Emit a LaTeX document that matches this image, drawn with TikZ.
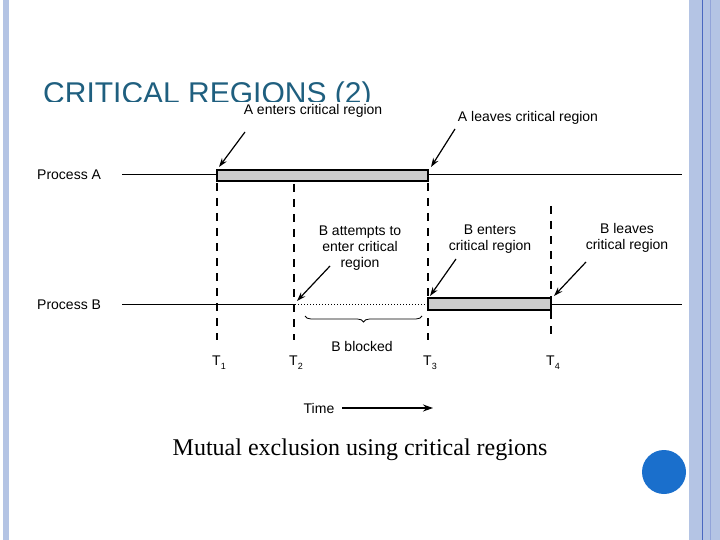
\documentclass[tikz,border=0pt]{standalone}
\usepackage{fontspec}
\setmainfont{Liberation Sans}
\newfontfamily\serifcap{Liberation Serif}
\usetikzlibrary{arrows.meta,decorations.pathreplacing}
\definecolor{band}{HTML}{B4C4E4}
\definecolor{bandline}{HTML}{4A68C0}
\definecolor{titlec}{HTML}{1F5F7F}
\definecolor{dot}{HTML}{1A6FCC}
\begin{document}
\begin{tikzpicture}[x=1pt,y=-1pt,
  lbl/.style={font=\fontsize{14}{16}\selectfont,align=center,inner sep=0pt},
  timeline/.style={line width=1pt},
  vdash/.style={line width=1.3pt,dash pattern=on 8pt off 7pt},
  crit/.style={draw,fill=gray!40,line width=1.2pt},
  callout/.style={line width=1.2pt,-{Stealth[length=9pt,width=6pt]}}]
\useasboundingbox (0,0) rectangle (720,540);
\fill[white] (0,0) rectangle (720,540);
\fill[band] (3,0) rectangle (9,540);
\fill[band] (689,0) rectangle (720,540);
\draw[bandline,line width=0.6pt] (702,0) -- (702,540);
\draw[bandline!60,line width=0.6pt] (710,0) -- (710,540);
\node[anchor=base west,text=titlec,font=\fontsize{30}{32}\selectfont,inner sep=0pt] (title) at (43,104) {CRITICAL REGIONS (2)};
\fill[white] (30,102) rectangle (688,425);
% process lines
\node[lbl,anchor=west] (pa) at (37,175) {Process A};
\node[lbl,anchor=west] (pb) at (37,305) {Process B};
\coordinate (a0) at (122,175); \coordinate (a1) at (217,175); \coordinate (a2) at (428,175); \coordinate (a3) at (682,175);
\coordinate (b0) at (122,304); \coordinate (b1) at (295,304); \coordinate (b2) at (428,304); \coordinate (b3) at (551,304); \coordinate (b4) at (682,304);
\draw[timeline] (a0) -- (a1); \draw[timeline] (a2) -- (a3);
\draw[timeline] (b0) -- (b1); \draw[timeline] (b3) -- (b4);
\draw[line width=1pt,dotted] (b1) -- (b2);
\draw[crit] (217,170) rectangle (428,181);
\draw[crit] (428,298) rectangle (551,310);
% dashed verticals
\draw[vdash] (217,183) -- (217,340);
\draw[vdash] (294,184) -- (294,340);
\draw[vdash] (428,183) -- (428,340);
\draw[vdash] (551,206) -- (551,340);
\node[lbl] (t1) at (219,363) {T\raisebox{-0.5ex}{\fontsize{9}{9}\selectfont 1}};
\node[lbl] (t2) at (296,363) {T\raisebox{-0.5ex}{\fontsize{9}{9}\selectfont 2}};
\node[lbl] (t3) at (430,363) {T\raisebox{-0.5ex}{\fontsize{9}{9}\selectfont 3}};
\node[lbl] (t4) at (553,363) {T\raisebox{-0.5ex}{\fontsize{9}{9}\selectfont 4}};
% callouts
\node[lbl] (ae) at (313,111) {A enters critical region};
\node[lbl] (al) at (528,118) {A leaves critical region};
\node[lbl] (ba) at (360,248) {B attempts to\\enter critical\\region};
\node[lbl] (be) at (490,239) {B enters\\critical region};
\node[lbl] (bl) at (627,238) {B leaves\\critical region};
\coordinate (ae1) at (245,132); \coordinate (ae2) at (219,167);
\coordinate (al1) at (455,129); \coordinate (al2) at (431,167);
\coordinate (ba1) at (330,266); \coordinate (ba2) at (297,301);
\coordinate (be1) at (456,259); \coordinate (be2) at (430,296);
\coordinate (bl1) at (586,262); \coordinate (bl2) at (554,296);
\draw[callout] (ae1) -- (ae2);
\draw[callout] (al1) -- (al2);
\draw[callout] (ba1) -- (ba2);
\draw[callout] (be1) -- (be2);
\draw[callout] (bl1) -- (bl2);
% brace
\draw[line width=0.8pt,decorate,decoration={brace,amplitude=6pt}] (422,316) -- (305,316);
\node[lbl] (bb) at (362,346) {B blocked};
% time
\node[lbl] (time) at (319,408) {Time};
\coordinate (te) at (433,408);
\draw[line width=1.5pt,-{Stealth[length=10pt,width=7pt]}] (time.east) ++(8,0) -- (te);
% caption
\node[inner sep=0pt,font=\serifcap\fontsize{24}{26}\selectfont] (cap) at (360,450) {Mutual exclusion using critical regions};
\fill[dot] (664,472) circle (22);
\end{tikzpicture}
\end{document}
